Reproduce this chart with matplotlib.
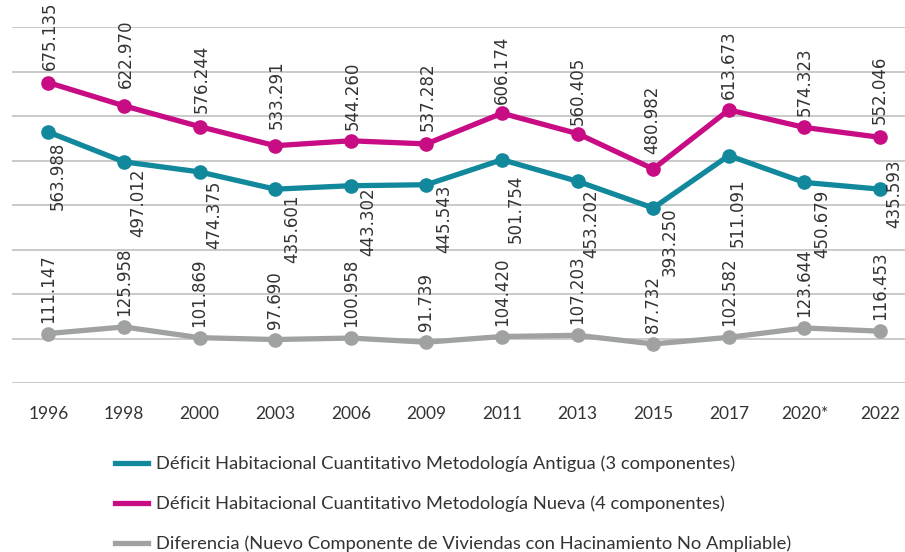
import matplotlib
matplotlib.use("Agg")
import matplotlib.pyplot as plt

years = ["1996", "1998", "2000", "2003", "2006", "2009", "2011", "2013", "2015", "2017", "2020*", "2022"]
antigua = [563.988, 497.012, 474.375, 435.601, 443.302, 445.543, 501.754, 453.202, 393.250, 511.091, 450.679, 435.593]
nueva = [675.135, 622.970, 576.244, 533.291, 544.260, 537.282, 606.174, 560.405, 480.982, 613.673, 574.323, 552.046]
diferencia = [111.147, 125.958, 101.869, 97.690, 100.958, 91.739, 104.420, 107.203, 87.732, 102.582, 123.644, 116.453]

names = ["Déficit Habitacional Cuantitativo Metodología Antigua (3 componentes)",
         "Déficit Habitacional Cuantitativo Metodología Nueva (4 componentes)",
         "Diferencia (Nuevo Componente de Viviendas con Hacinamiento No Ampliable)"]

# label nudges (pixels), as placed in the original chart
ant_dx = [9, 14, 15, 17, 17, 18, 14, 14, 16, 9, 18, 14]
ant_dy = [-10, -7, -9, -5, -2, 0, -15, -8, 1, -23, -7, 30]
nue_dx = [2, 2, 2, 2, 2, 1, 0, 0, -1, 0, 0, 0]
nue_dy = [13, 18, 14, 17, 11, 13, 9, 9, 15, 11, 11, 13]

c_ant = "#11889b"
c_nue = "#c70c84"
c_dif = "#a0a2a2"
txt = "#333333"

fig = plt.figure(figsize=(9.05, 5.52), dpi=100)
ax = fig.add_axes([12/905, 1 - 383/552, 1 - 12/905, (383 - 27)/552])

x = list(range(len(years)))
l1, = ax.plot(x, antigua, color=c_ant, lw=3.8, marker="o", ms=9.5, zorder=3)
l2, = ax.plot(x, nueva, color=c_nue, lw=3.8, marker="o", ms=9.5, zorder=3)
l3, = ax.plot(x, diferencia, color=c_dif, lw=3.8, marker="o", ms=9.5, zorder=3)

def fmt(v):
    return f"{v:.3f}"

for i, v in enumerate(nueva):
    ax.annotate(fmt(v), (i, v), xytext=(nue_dx[i], nue_dy[i]), textcoords="offset pixels",
                rotation=90, ha="center", va="bottom", fontsize=12, color=txt,
                annotation_clip=False)
for i, v in enumerate(antigua):
    ax.annotate(fmt(v), (i, v), xytext=(ant_dx[i], ant_dy[i]), textcoords="offset pixels",
                rotation=90, ha="center", va="top", fontsize=12, color=txt,
                annotation_clip=False)
for i, v in enumerate(diferencia):
    ax.annotate(fmt(v), (i, v), xytext=(0, 11), textcoords="offset pixels",
                rotation=90, ha="center", va="bottom", fontsize=12, color=txt,
                annotation_clip=False)

ax.set_ylim(0, 800)
ax.set_xlim(-0.48, 11.33)
ax.set_yticks(range(0, 801, 100))
ax.yaxis.grid(True, color="#c6c6c6", lw=1.3)
ax.set_axisbelow(True)
ax.tick_params(axis="y", left=False, labelleft=False)
ax.tick_params(axis="x", bottom=False, pad=13, labelsize=12.5, labelcolor=txt)
ax.set_xticks(x)
ax.set_xticklabels(years, fontname="Lato")
for s in ax.spines.values():
    s.set_visible(False)

fig.legend([l1, l2, l3], names, loc="upper left", bbox_to_anchor=(98/905, 1 - 439/552),
           frameon=False, handlelength=1.85, handletextpad=0.4, labelspacing=1.28,
           prop={"family": "Lato", "size": 13.2}, labelcolor=txt)
for h in fig.legends[0].legend_handles:
    h.set_marker("")

fig.savefig("out.png", dpi=100)
